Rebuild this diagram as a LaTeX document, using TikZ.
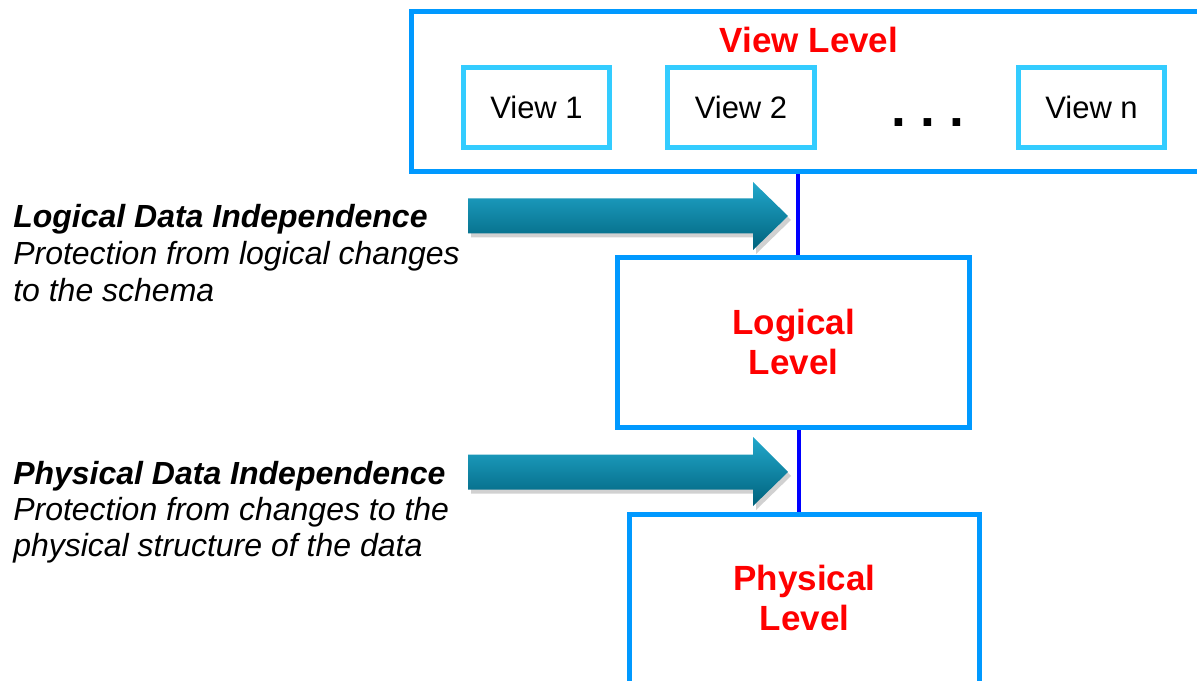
\documentclass[tikz,border=0pt]{standalone}
\usepackage{fontspec}
\setmainfont{Liberation Sans}
\usetikzlibrary{fit,calc}
\definecolor{outerblue}{RGB}{0,153,255}
\definecolor{viewblue}{RGB}{51,204,255}
\definecolor{connblue}{RGB}{0,0,255}
\definecolor{lvlred}{RGB}{255,0,0}
\definecolor{arrtop}{RGB}{34,168,204}
\definecolor{arrbot}{RGB}{0,98,124}
\tikzset{
  levelbox/.style={draw=outerblue, line width=3.75pt, inner sep=0pt},
  viewbox/.style={draw=viewblue, line width=3.75pt, inner sep=0pt},
  conn/.style={draw=connblue, line width=3pt},
  lvltext/.style={text=lvlred, font=\fontsize{26.25}{30}\selectfont\bfseries, align=center, inner sep=0pt},
  viewtext/.style={font=\fontsize{23.25}{27}\selectfont, inner sep=0pt},
  headtext/.style={anchor=base west, inner sep=0pt, font=\fontsize{24}{28}\selectfont\bfseries\itshape},
  desctext/.style={anchor=base west, inner sep=0pt, font=\fontsize{24}{28}\selectfont\itshape},
  bigarrow/.style={shade, top color=arrtop, bottom color=arrbot},
  arrshadow/.style={fill=black, opacity=0.18}
}
\begin{document}
\begin{tikzpicture}[x=0.75pt,y=-0.75pt]
\useasboundingbox (0,0) rectangle (1197,681);
\clip (0,0) rectangle (1197,681);
\fill[white] (0,0) rectangle (1197,681);

% level boxes
\node[levelbox, fit={(411.5,11.5) (1206,171.5)}] (viewlevel) {};
\node[levelbox, fit={(617.5,257.5) (969,427.5)}] (logical) {};
\node[levelbox, fit={(629.5,514) (979.5,720)}] (physical) {};

% view boxes
\node[viewbox, fit={(463.5,67.5) (609.5,147.5)}] (view1) {};
\node[viewbox, fit={(667.5,67.5) (814.5,147.5)}] (view2) {};
\node[viewbox, fit={(1018.5,67.5) (1164.5,147.5)}] (viewn) {};

% texts
\node[lvltext, anchor=base] (vltitle) at (809,53) {View Level};
\node[viewtext] (v1t) at (view1.center) {View 1};
\node[viewtext] (v2t) at (view2.center) {View 2};
\node[viewtext] (vnt) at (viewn.center) {View n};
\node[anchor=base, inner sep=0pt, font=\fontsize{40}{44}\selectfont\bfseries] (dots) at (928,127) {.\hspace{10.6pt}.\hspace{10.6pt}.};
\node[lvltext] (loglbl) at (793.5,342) {Logical\\Level};
\node[lvltext] (physlbl) at (804.5,598) {Physical\\Level};

% connectors
\coordinate (c1) at (798,0);
\coordinate (c2) at (799,0);
\draw[conn] (c1 |- viewlevel.south) -- (c1 |- logical.north);
\draw[conn] (c2 |- logical.south) -- (c2 |- physical.north);

% big arrows
\fill[arrshadow] (471,202.5) -- (756,202.5) -- (756,186) -- (791,220) -- (756,254) -- (756,237.5) -- (471,237.5) -- cycle;
\path[bigarrow] (468,198.5) -- (753,198.5) -- (753,182) -- (788,216) -- (753,250) -- (753,233.5) -- (468,233.5) -- cycle;
\fill[arrshadow] (471,458.5) -- (756,458.5) -- (756,441) -- (791,476) -- (756,510) -- (756,493.5) -- (471,493.5) -- cycle;
\path[bigarrow] (468,454.5) -- (753,454.5) -- (753,437) -- (788,472) -- (753,506) -- (753,489.5) -- (468,489.5) -- cycle;

% left explanations
\node[headtext] (ldi) at (13,228) {Logical Data Independence};
\node[desctext] (ldi2) at (13,265) {Protection from logical changes};
\node[desctext] (ldi3) at (13,301) {to the schema};
\node[headtext] (pdi) at (13,484) {Physical Data Independence};
\node[desctext] (pdi2) at (13,520) {Protection from changes to the};
\node[desctext] (pdi3) at (13,556) {physical structure of the data};
\end{tikzpicture}
\end{document}
